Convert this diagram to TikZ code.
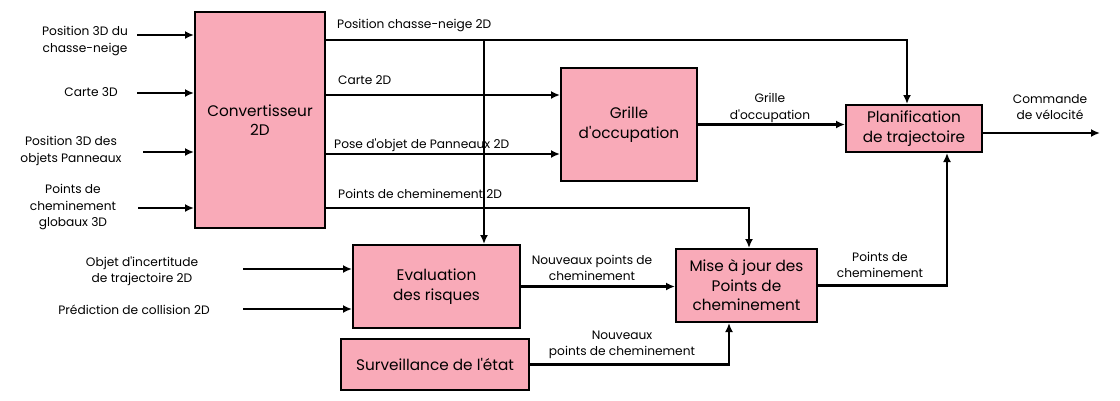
\documentclass[tikz,border=0pt]{standalone}
\usepackage{fontspec}
\setmainfont{Poppins}
\usetikzlibrary{arrows.meta}
\definecolor{boxpink}{RGB}{249,170,184}
\newcommand{\ap}{\textquotesingle}
\begin{document}
\begin{tikzpicture}[x=1pt,y=-1pt,
  blok/.style={draw=black, line width=2pt, fill=boxpink, align=center,
    inner sep=0pt, font=\fontsize{15.3}{19.5}\selectfont},
  flow/.style={line width=2.7pt, -{Latex[length=9pt,width=8pt]}},
  lbl/.style={align=center, inner sep=0pt, font=\fontsize{12.2}{16.5}\selectfont}]
  \useasboundingbox (0,0) rectangle (1120,400);

  % Blocks
  \node[blok, minimum width=130pt, minimum height=216pt] (conv) at (260,120) {Convertisseur\\2D};
  \node[blok, minimum width=136pt, minimum height=113pt] (grille) at (629,124.5) {Grille\\d\ap occupation};
  \node[blok, minimum width=136pt, minimum height=47pt] (plan) at (914,128.5) {Planification\\de trajectoire};
  \node[blok, minimum width=167pt, minimum height=83pt] (eval) at (436.5,286.5) {Evaluation\\des risques};
  \node[blok, minimum width=188pt, minimum height=51pt] (surv) at (435,364.5) {Surveillance de l\ap état};
  \node[blok, minimum width=141pt, minimum height=73pt] (mise) at (746.5,285.5) {Mise à jour des\\Points de\\cheminement};

  % Inputs of the converter
  \foreach \id/\tx/\ty/\sx/\sy/\txt in {
      a/85/41/137/35/{Position 3D du\\chasse-neige},
      b/91/92/137/93/{Carte 3D},
      c/71/151/143/152/{Position 3D des\\objets Panneaux},
      d/73/207/138/208/{Points de\\cheminement\\globaux 3D}} {
    \node[lbl] (in\id) at (\tx,\ty) {\txt};
    \coordinate (s\id) at (\sx,\sy);
    \draw[flow] (s\id) -- (s\id -| conv.west);
  }

  % Inputs of the risk evaluation
  \node[lbl] (ine) at (142,271) {Objet d\ap incertitude\\de trajectoire 2D};
  \node[lbl] (inf) at (134,310) {Prédiction de collision 2D};
  \coordinate (se) at (243,269);
  \coordinate (sf) at (243,309);
  \draw[flow] (se) -- (se -| eval.west);
  \draw[flow] (sf) -- (sf -| eval.west);

  % Outputs of the converter
  \coordinate (o1) at (325,40);
  \coordinate (o2) at (325,95);
  \coordinate (o3) at (325,154);
  \coordinate (o4) at (325,208);
  \coordinate (split) at (484,40);
  \draw[flow] (o1) -| ([xshift=-7pt]plan.north);
  \draw[flow] (split) -- (split |- eval.north);
  \draw[flow] (o2) -- (o2 -| grille.west);
  \draw[flow] (o3) -- (o3 -| grille.west);
  \draw[flow] (o4) -| ([xshift=2.5pt]mise.north);
  \node[lbl, anchor=west] (l1) at (337,26) {Position chasse-neige 2D};
  \node[lbl, anchor=west] (l2) at (338,80) {Carte 2D};
  \node[lbl, anchor=west] (l3) at (334,145) {Pose d\ap objet de Panneaux 2D};
  \node[lbl, anchor=west] (l4) at (338,194) {Points de cheminement 2D};

  % Remaining connectors
  \draw[flow] (grille.east) -- (grille.east -| plan.west);
  \node[lbl] (l5) at (770,108) {Grille\\d\ap occupation};
  \coordinate (out) at (1100,133);
  \draw[flow] (plan.east |- out) -- (out);
  \node[lbl] (l6) at (1050,107) {Commande\\de vélocité};
  \draw[flow] (mise.east) -| ([xshift=33pt]plan.south);
  \node[lbl] (l7) at (880,265) {Points de\\cheminement};
  \draw[flow] (eval.east) -- (eval.east -| mise.west);
  \node[lbl] (l8) at (592,268) {Nouveaux points de\\cheminement};
  \draw[flow] (surv.east) -| ([xshift=-17.5pt]mise.south);
  \node[lbl] (l9) at (622,345) {Nouveaux\\points de cheminement};
\end{tikzpicture}
\end{document}
